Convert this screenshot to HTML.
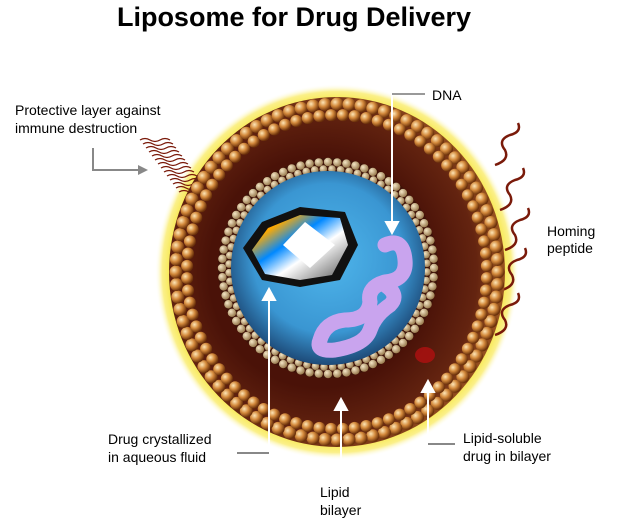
<!DOCTYPE html>
<html><head><style>
html,body{margin:0;padding:0;background:#fff;}
svg{display:block;font-family:"Liberation Sans",Arial,sans-serif;}
</style></head><body>
<svg id="s" width="631" height="529" viewBox="0 0 631 529" xmlns="http://www.w3.org/2000/svg">
<defs>
<radialGradient id="glow" cx="0.5" cy="0.5" r="0.5">
<stop offset="0.9" stop-color="#f6e640"/><stop offset="0.96" stop-color="#fbf08a"/><stop offset="1" stop-color="#fff" stop-opacity="0"/>
</radialGradient>
<radialGradient id="mem" cx="0.45" cy="0.5" r="0.55">
<stop offset="0.6" stop-color="#4a1208"/><stop offset="0.85" stop-color="#642410"/><stop offset="1" stop-color="#9a5420"/>
</radialGradient>
<radialGradient id="blue" cx="0.5" cy="0.45" r="0.55">
<stop offset="0" stop-color="#4fb6ec"/><stop offset="0.7" stop-color="#3a96d2"/><stop offset="1" stop-color="#1d4a78"/>
</radialGradient>
<radialGradient id="bead" cx="0.35" cy="0.35" r="0.65">
<stop offset="0" stop-color="#fde6b8"/><stop offset="0.5" stop-color="#d48a3c"/><stop offset="1" stop-color="#6a300a"/>
</radialGradient>
<radialGradient id="bead2" cx="0.35" cy="0.35" r="0.65">
<stop offset="0" stop-color="#f4e6c6"/><stop offset="1" stop-color="#9a7c50"/>
</radialGradient>
<linearGradient id="cry" x1="0" y1="0" x2="1" y2="1">
<stop offset="0" stop-color="#f00"/><stop offset="0.2" stop-color="#fa0"/><stop offset="0.4" stop-color="#08f"/><stop offset="0.6" stop-color="#fff"/><stop offset="1" stop-color="#555"/>
</linearGradient>
</defs>
<text x="294" y="26" font-size="27" font-weight="bold" text-anchor="middle" fill="#000">Liposome for Drug Delivery</text>
<ellipse cx="337" cy="272" rx="182" ry="188" fill="url(#glow)"/>
<g id="tails" stroke="#6b1a0a" stroke-width="1.3" fill="none"></g>
<ellipse cx="337" cy="272" rx="168" ry="175" fill="url(#mem)"/>
<g id="outer"></g>
<circle cx="328" cy="268" r="110" fill="#3e1208"/>
<g id="inner"></g>
<circle cx="328" cy="268" r="97" fill="url(#blue)"/>
<polygon points="243,248 262,222 300,207 345,212 358,245 340,280 300,287 262,280" fill="#111"/>
<polygon points="252,250 268,228 300,215 340,218 348,245 332,275 300,280 265,274" fill="url(#cry)"/>
<polygon points="283,245 305,222 335,245 310,268" fill="#fff"/>
<path d="M385,245 q18,-8 20,15 q2,20 -20,22 q-18,5 -15,20 q-2,18 -25,18 q-20,2 -25,20 q-5,12 15,10 q30,-5 35,-20 q5,-15 20,-25 q10,-10 -5,-20" fill="none" stroke="#c9a4ee" stroke-width="15" stroke-linecap="round"/>
<ellipse cx="425" cy="355" rx="10" ry="8" fill="#b01010" opacity="0.8"/>
<g stroke="#fff" stroke-width="2" fill="#fff">
<line x1="392" y1="94" x2="392" y2="225"/><polygon points="386,222 398,222 392,233"/>
<line x1="269" y1="296" x2="269" y2="453"/><polygon points="263,300 275,300 269,289"/>
<line x1="341" y1="408" x2="341" y2="468"/><polygon points="335,410 347,410 341,399"/>
<line x1="428" y1="390" x2="428" y2="444"/><polygon points="422,392 434,392 428,381"/>
</g>
<g stroke="#888" stroke-width="2" fill="none">
<line x1="392" y1="94" x2="425" y2="94" stroke="#999"/>
<line x1="237" y1="453" x2="269" y2="453"/>
<line x1="428" y1="444" x2="455" y2="444"/>
<polyline points="93,148 93,170 140,170"/>
</g>
<polygon points="138,165 148,170 138,175" fill="#888"/>
<g font-size="14" fill="#000">
<text x="432" y="100">DNA</text>
<text x="15" y="115">Protective layer against</text>
<text x="15" y="133">immune destruction</text>
<text x="547" y="236">Homing</text>
<text x="547" y="253">peptide</text>
<text x="108" y="444">Drug crystallized</text>
<text x="108" y="462">in aqueous fluid</text>
<text x="463" y="443">Lipid-soluble</text>
<text x="463" y="461">drug in bilayer</text>
<text x="320" y="497">Lipid</text>
<text x="320" y="515">bilayer</text>
</g>
</svg>
<script>
var ns="http://www.w3.org/2000/svg";
function add(g,tag,a){var e=document.createElementNS(ns,tag);for(var k in a)e.setAttribute(k,a[k]);document.getElementById(g).appendChild(e);}
for(var i=0;i<150;i++){var t=i/150*2*Math.PI;
 add("tails","line",{x1:337+155*Math.cos(t),y1:272+162*Math.sin(t),x2:337+115*Math.cos(t),y2:272+120*Math.sin(t),stroke:"#7a2a12","stroke-width":1,opacity:0.6});}
for(var i=0;i<84;i++){var t=i/84*2*Math.PI;
 add("outer","circle",{cx:337+161*Math.cos(t),cy:272+168*Math.sin(t),r:6.5,fill:"url(#bead)"});}
for(var i=0;i<80;i++){var t=(i+0.5)/80*2*Math.PI;
 add("outer","circle",{cx:337+150*Math.cos(t),cy:272+157*Math.sin(t),r:6,fill:"url(#bead)"});}
for(var i=0;i<72;i++){var t=i/72*2*Math.PI;
 add("inner","circle",{cx:328+106*Math.cos(t),cy:268+106*Math.sin(t),r:4.2,fill:"url(#bead2)"});
 add("inner","circle",{cx:328+99*Math.cos(t+0.04),cy:268+99*Math.sin(t+0.04),r:3.8,fill:"url(#bead2)"});}
for(var i=0;i<14;i++){var x=150+i*3,y=135+i*4;
 add("tails","path",{d:"M"+(x+20)+","+(y+5)+" q-5,-3 -10,0 q-5,3 -10,0 q-5,-3 -10,0",stroke:"#7a1a0a","stroke-width":1.3});}
var hp=[[495,165],[500,210],[505,250],[502,290],[495,335]];
hp.forEach(function(p){add("tails","path",{d:"M"+p[0]+","+p[1]+" q15,-5 10,-15 q-8,-10 5,-15 q12,-3 8,-12",stroke:"#7a1a0a","stroke-width":2.5});});
</script>
</body></html>
